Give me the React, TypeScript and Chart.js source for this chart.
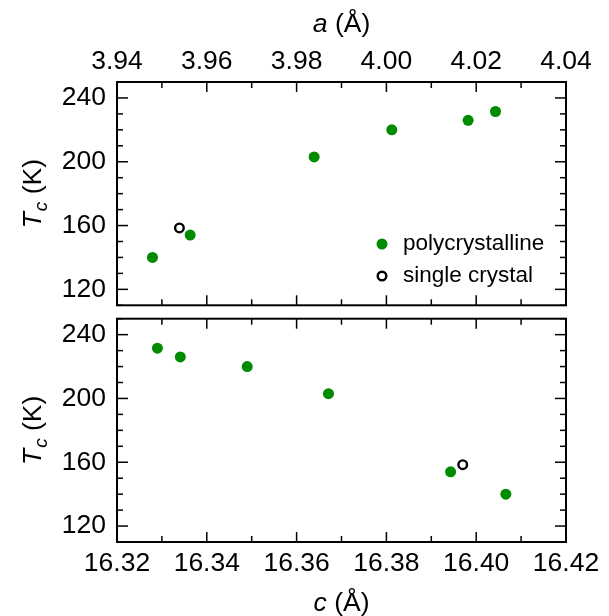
import React, { useEffect, useRef } from "react";
import { Chart, registerables } from "chart.js";

Chart.register(...registerables);

// ---- data ----
const polyA = [3.9479, 3.9563, 3.9839, 4.0012, 4.0182, 4.0243];
const polyC = [16.4066, 16.3943, 16.3671, 16.349, 16.3341, 16.329];
const polyTc = [140, 154, 203, 220, 226, 231.5];
const singleA = [3.9539];
const singleC = [16.397];
const singleTc = [158.5];

const aTicks = [3.94, 3.96, 3.98, 4.0, 4.02, 4.04];
const cTicks = [16.32, 16.34, 16.36, 16.38, 16.4, 16.42];
const tcTicks = [120, 160, 200, 240];
const seriesNames = ["polycrystalline", "single crystal"];

const GREEN = "#008B00";
const FONT = "'Liberation Sans', Arial, Helvetica, sans-serif";
const FS = 26.5;
const LFS = 22.5;

function framePlugin(kind: "top" | "bottom") {
  return {
    id: "frame_" + kind,
    afterDraw(chart: any) {
      const ctx = chart.ctx;
      const { left, right, top, bottom } = chart.chartArea;
      const xs = chart.scales.x;
      const ys = chart.scales.y;
      ctx.save();
      ctx.strokeStyle = "#000";
      ctx.lineWidth = 1.5;
      const line = (x1: number, y1: number, x2: number, y2: number) => {
        ctx.beginPath();
        ctx.moveTo(x1, y1);
        ctx.lineTo(x2, y2);
        ctx.stroke();
      };
      const xStep = (xs.max - xs.min) / 10;
      for (let i = 0; i <= 10; i++) {
        const px = xs.getPixelForValue(xs.min + i * xStep);
        const len = i % 2 === 0 ? 10 : 6;
        line(px, top, px, top + len);
        line(px, bottom, px, bottom - len);
      }
      const yStep = 10;
      for (let v = ys.min; v <= ys.max + 1e-9; v += yStep) {
        const py = ys.getPixelForValue(v);
        const major = (v - tcTicks[0]) % 40 === 0;
        const len = major ? 11 : 6;
        line(left, py, left + len, py);
        line(right, py, right - len, py);
      }
      ctx.lineWidth = 2;
      ctx.strokeRect(left, top, right - left, bottom - top);

      // axis titles
      ctx.fillStyle = "#000";
      ctx.textBaseline = "middle";
      const drawXTitle = (sym: string, cy: number) => {
        ctx.font = `italic ${FS}px ${FONT}`;
        const w1 = ctx.measureText(sym).width;
        ctx.font = `${FS}px ${FONT}`;
        const rest = " (\u00C5)";
        const w2 = ctx.measureText(rest).width;
        const cx = (left + right) / 2;
        const x = cx - (w1 + w2) / 2;
        ctx.textAlign = "left";
        ctx.font = `italic ${FS}px ${FONT}`;
        ctx.fillText(sym, x, cy);
        ctx.font = `${FS}px ${FONT}`;
        ctx.fillText(rest, x + w1, cy);
      };
      if (kind === "top") drawXTitle("a", 25);
      else drawXTitle("c", chart.height - 12);

      // y title: T_c (K)
      ctx.save();
      const cy = (top + bottom) / 2;
      ctx.translate(32, cy);
      ctx.rotate(-Math.PI / 2);
      const SFS = 19;
      ctx.font = `italic ${FS}px ${FONT}`;
      const wT = ctx.measureText("T").width;
      ctx.font = `italic ${SFS}px ${FONT}`;
      const wc = ctx.measureText("c").width;
      ctx.font = `${FS}px ${FONT}`;
      const wK = ctx.measureText(" (K)").width;
      const total = wT + wc + 1 + wK;
      const x0 = -total / 2;
      ctx.textAlign = "left";
      ctx.textBaseline = "alphabetic";
      const base = 9;
      ctx.font = `italic ${FS}px ${FONT}`;
      ctx.fillText("T", x0, base);
      ctx.font = `italic ${SFS}px ${FONT}`;
      ctx.fillText("c", x0 + wT + 1, base + 6);
      ctx.font = `${FS}px ${FONT}`;
      ctx.fillText(" (K)", x0 + wT + wc + 1, base);
      ctx.restore();

      // legend (top panel only)
      if (kind === "top") {
        const lx = left + 265;
        const rows = [top + 162, top + 194];
        chart.data.datasets.forEach((ds: any, i: number) => {
          const y = rows[i];
          ctx.beginPath();
          ctx.arc(lx, y, ds.pointRadius, 0, Math.PI * 2);
          if (ds.pointBorderWidth > 0) {
            ctx.lineWidth = ds.pointBorderWidth;
            ctx.strokeStyle = ds.pointBorderColor;
            ctx.stroke();
          } else {
            ctx.fillStyle = ds.pointBackgroundColor;
            ctx.fill();
          }
          ctx.fillStyle = "#000";
          ctx.font = `${LFS}px ${FONT}`;
          ctx.textAlign = "left";
          ctx.textBaseline = "middle";
          ctx.fillText(ds.label, lx + 21, y);
        });
      }
      ctx.restore();
    },
  };
}

function makeConfig(kind: "top" | "bottom"): any {
  const xPoly = kind === "top" ? polyA : polyC;
  const xSingle = kind === "top" ? singleA : singleC;
  const xTicks = kind === "top" ? aTicks : cTicks;
  return {
    type: "scatter",
    data: {
      datasets: [
        {
          label: seriesNames[0],
          data: xPoly.map((x, i) => ({ x, y: polyTc[i] })),
          pointRadius: 5.5,
          pointBackgroundColor: GREEN,
          pointBorderColor: GREEN,
          pointBorderWidth: 0,
          showLine: false,
        },
        {
          label: seriesNames[1],
          data: xSingle.map((x, i) => ({ x, y: singleTc[i] })),
          pointRadius: 4.3,
          pointBackgroundColor: "rgba(255,255,255,0)",
          pointBorderColor: "#000",
          pointBorderWidth: 2.4,
          showLine: false,
        },
      ],
    },
    options: {
      responsive: false,
      animation: false,
      events: [],
      layout: {
        padding:
          kind === "top"
            ? { left: 0, right: 43, top: 0, bottom: 5 }
            : { left: 0, right: 43, top: 6, bottom: 0 },
      },
      plugins: { legend: { display: false }, tooltip: { enabled: false } },
      scales: {
        x: {
          type: "linear",
          position: kind === "top" ? "top" : "bottom",
          min: xTicks[0],
          max: xTicks[xTicks.length - 1],
          afterBuildTicks: (s: any) => {
            s.ticks = xTicks.map((v) => ({ value: v }));
          },
          afterFit: (s: any) => {
            s.height = kind === "top" ? 82 : 74;
            s.paddingLeft = 0;
            s.paddingRight = 0;
            s.paddingTop = 0;
            s.paddingBottom = 0;
          },
          grid: { display: false, drawTicks: false },
          border: { display: false },
          ticks: {
            padding: kind === "top" ? 4 : 6,
            color: "#000",
            font: { family: FONT, size: FS },
            maxRotation: 0,
            autoSkip: false,
            callback: (v: number) => Number(v).toFixed(2),
          },
        },
        y: {
          type: "linear",
          position: "left",
          min: 110,
          max: 250,
          afterBuildTicks: (s: any) => {
            s.ticks = tcTicks.map((v) => ({ value: v }));
          },
          afterFit: (s: any) => {
            s.width = 117;
            s.paddingTop = 0;
            s.paddingBottom = 0;
            s.paddingLeft = 0;
            s.paddingRight = 0;
          },
          grid: { display: false, drawTicks: false },
          border: { display: false },
          ticks: {
            padding: 11,
            color: "#000",
            font: { family: FONT, size: FS },
            callback: (v: number) => String(v),
          },
        },
      },
    },
    plugins: [framePlugin(kind)],
  };
}

function Panel({ kind, top, height }: { kind: "top" | "bottom"; top: number; height: number }) {
  const ref = useRef<HTMLCanvasElement>(null);
  useEffect(() => {
    if (!ref.current) return;
    const chart = new Chart(ref.current, makeConfig(kind));
    return () => chart.destroy();
  }, [kind]);
  return (
    <canvas
      ref={ref}
      width={609}
      height={height}
      style={{ position: "absolute", left: 0, top, width: 609, height, display: "block" }}
    />
  );
}

export default function App() {
  return (
    <div style={{ position: "absolute", left: 0, top: 0, width: 609, height: 616, background: "#fff" }}>
      <Panel kind="top" top={0} height={312} />
      <Panel kind="bottom" top={312} height={304} />
    </div>
  );
}
